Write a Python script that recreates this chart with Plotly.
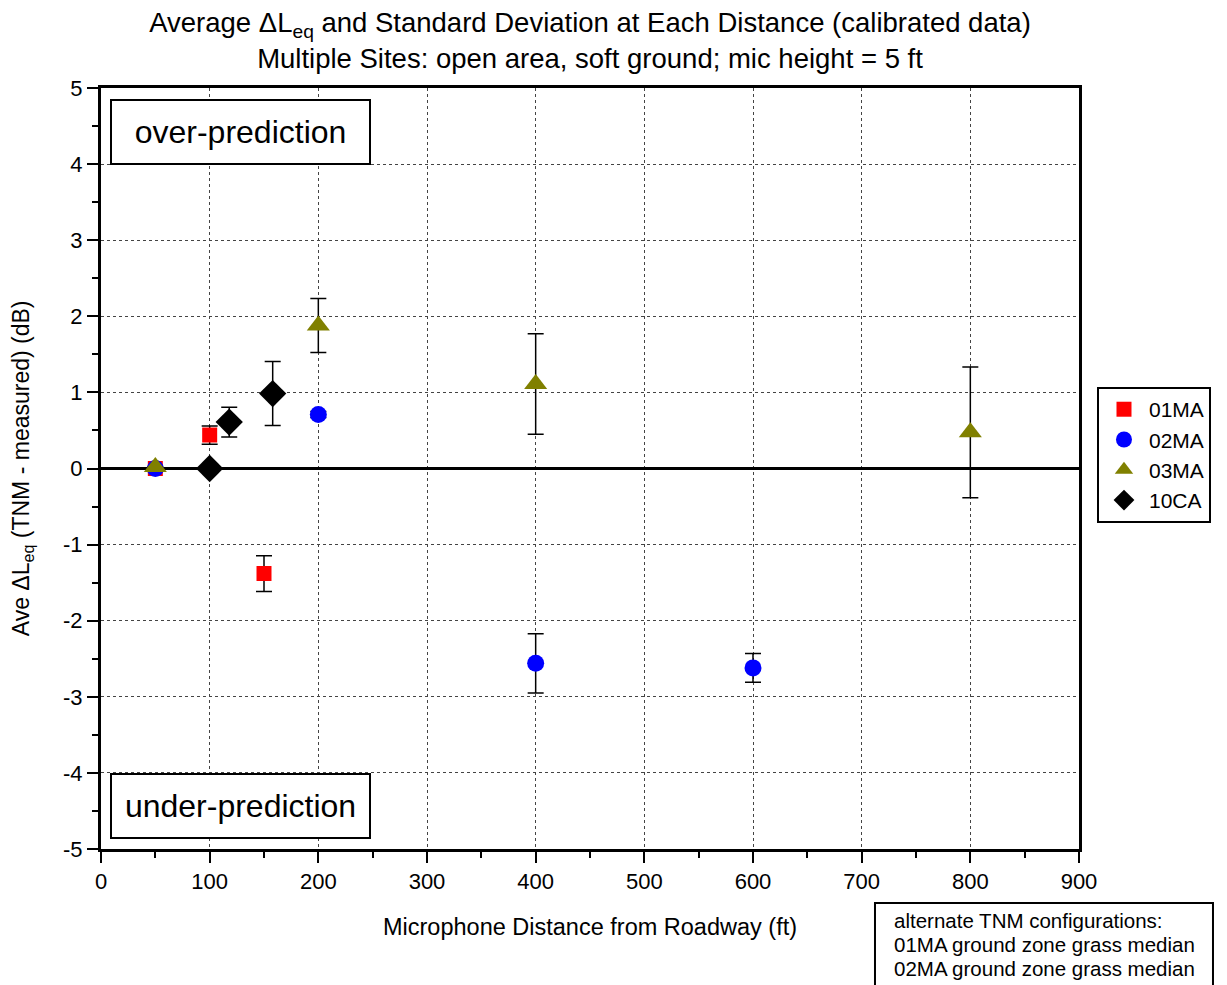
import plotly.graph_objects as go

# distances (ft), mean delta Leq (dB) and standard deviation for each site
x_01ma = [50, 100, 150]
y_01ma = [0.0, 0.44, -1.38]
sd_01ma = [0.0, 0.12, 0.235]

x_02ma = [50, 200, 400, 600]
y_02ma = [0.0, 0.71, -2.56, -2.62]
sd_02ma = [0.0, 0.04, 0.39, 0.19]

x_03ma = [50, 200, 400, 800]
y_03ma = [0.02, 1.88, 1.11, 0.475]
sd_03ma = [0.0, 0.355, 0.66, 0.86]

x_10ca = [100, 118, 158]
y_10ca = [0.0, 0.61, 0.985]
sd_10ca = [0.0, 0.195, 0.42]

y_ticks = [-5, -4, -3, -2, -1, 0, 1, 2, 3, 4, 5]
x_ticks = [0, 100, 200, 300, 400, 500, 600, 700, 800, 900]

note_lines = ["alternate TNM configurations:",
              "01MA ground zone grass median",
              "02MA ground zone grass median"]

FONT = "Liberation Sans, Arial, sans-serif"

fig = go.Figure()

def add_site(name, xs, ys, sd, color, symbol, size):
    fig.add_trace(go.Scatter(
        x=xs, y=ys, mode="markers", name=name,
        marker=dict(color=color, symbol=symbol, size=size, line=dict(width=0)),
        error_y=dict(type="data", array=sd, visible=True, color="black",
                     thickness=1.5, width=8),
    ))

add_site("01MA", x_01ma, y_01ma, sd_01ma, "#ff0000", "square", 15)
add_site("02MA", x_02ma, y_02ma, sd_02ma, "#0000ff", "circle", 17)
add_site("03MA", x_03ma, y_03ma, sd_03ma, "#808000", "triangle-up", 20)
add_site("10CA", x_10ca, y_10ca, sd_10ca, "#000000", "diamond", 21)

axis_common = dict(
    showline=True, linewidth=3, linecolor="black", mirror=True, automargin=False,
    showgrid=True, gridcolor="#444444", griddash="dot", gridwidth=1,
    ticks="outside", ticklen=11, tickwidth=2, tickcolor="black",
    tickfont=dict(size=22, family=FONT, color="black"),
)

fig.update_xaxes(
    range=[0, 900], tickvals=x_ticks, zeroline=False,
    minor=dict(ticks="outside", ticklen=6, tickwidth=2, dtick=50, tick0=0, showgrid=False),
    **axis_common,
)
fig.update_yaxes(
    range=[-5, 5], tickvals=y_ticks, ticktext=[str(v) for v in y_ticks],
    zeroline=True, zerolinewidth=3, zerolinecolor="black",
    minor=dict(ticks="outside", ticklen=6, tickwidth=2, dtick=0.5, tick0=0, showgrid=False),
    **axis_common,
)

# axis titles
fig.add_annotation(
    text="Microphone Distance from Roadway (ft)", xref="paper", yref="paper",
    x=0.5, y=-0.103, xanchor="center", yanchor="middle", showarrow=False,
    font=dict(size=23.5, family=FONT, color="black"),
)
fig.add_annotation(
    text="Ave ΔL<sub>eq</sub> (TNM - measured) (dB)", xref="paper", yref="paper",
    x=-0.080, y=0.5, xanchor="center", yanchor="middle", showarrow=False,
    textangle=-90, font=dict(size=23, family=FONT, color="black"),
)

fig.add_annotation(
    text="over-prediction", xref="paper", yref="paper", x=0.009, y=0.9855,
    xanchor="left", yanchor="top", showarrow=False,
    font=dict(size=32, family=FONT, color="black"),
    bordercolor="black", borderwidth=2, borderpad=0, bgcolor="white",
    width=257, height=62,
)
fig.add_annotation(
    text="under-prediction", xref="paper", yref="paper", x=0.009, y=0.0999,
    xanchor="left", yanchor="top", showarrow=False,
    font=dict(size=32, family=FONT, color="black"),
    bordercolor="black", borderwidth=2, borderpad=0, bgcolor="white",
    width=257, height=62,
)

# note box below the legend
fig.add_shape(
    type="rect", xref="paper", yref="paper",
    x0=0.7914, x1=1.137, y0=-0.2, y1=-0.071,
    line=dict(color="black", width=2), fillcolor="white",
)
for i, line in enumerate(note_lines):
    fig.add_annotation(
        text=line, xref="paper", yref="paper", x=0.8088, y=-0.0946 - i * 0.0309,
        xanchor="left", yanchor="middle", showarrow=False,
        font=dict(size=20.5, family=FONT, color="black"),
    )

# page body has an 8px margin, so the figure is 8px smaller and margins shifted
fig.update_layout(
    width=1219, height=977,
    margin=dict(l=93, r=148, t=80, b=136),
    paper_bgcolor="white", plot_bgcolor="white",
    font=dict(family=FONT, color="black"),
    title=dict(
        text="Average ΔL<sub>eq</sub> and Standard Deviation at Each Distance (calibrated data)<br>"
             "Multiple Sites: open area, soft ground; mic height = 5 ft",
        x=0.5, xref="paper", y=0.975, yref="container", yanchor="middle",
        font=dict(size=27.5, family=FONT, color="black"),
    ),
    legend=dict(
        x=1.0184, y=0.607, xanchor="left", yanchor="top",
        bordercolor="black", borderwidth=2, bgcolor="white",
        font=dict(size=21, family=FONT, color="black"),
        itemsizing="trace", itemwidth=40,
    ),
)

fig.write_html("out.html")
